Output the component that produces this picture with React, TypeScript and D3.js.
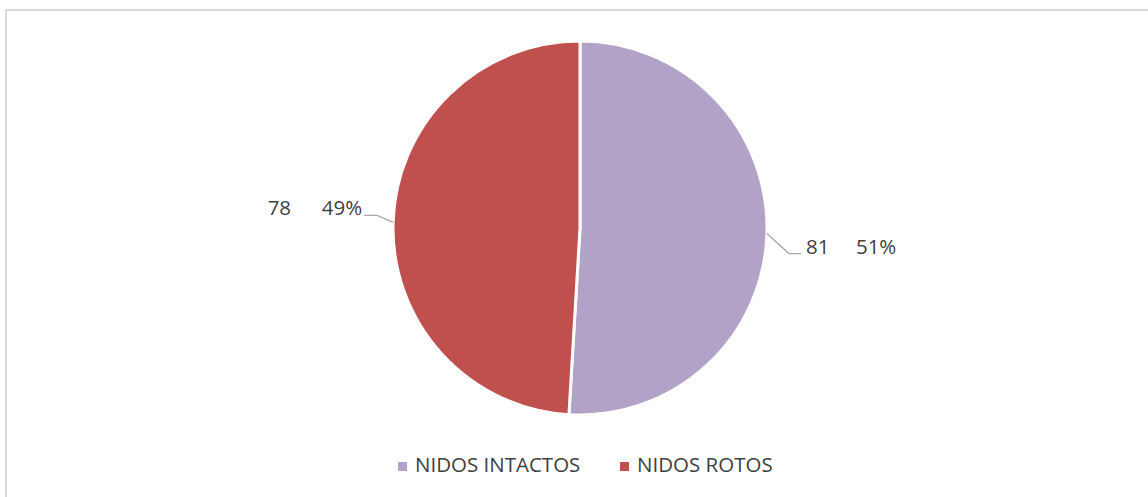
import React from 'react';
import * as d3 from 'd3';

const categories = ['NIDOS INTACTOS', 'NIDOS ROTOS'];
const values = [81, 78];
const colors = ['#B3A2C7', '#C0504D'];

const W = 1148;
const H = 497;
const cx = 580;
const cy = 228;
const R = 187;
const FONT = '"Open Sans", "Noto Sans", sans-serif';
const FS = 20.5;
const TEXT = '#404040';

export default function App() {
  const total = d3.sum(values);
  const pie = d3.pie<number>().sort(null).value(d => d)(values);
  const arc = d3.arc<d3.PieArcDatum<number>>().innerRadius(0).outerRadius(R);
  const pct = d3.format('.0%');

  return (
    <svg width={W} height={H} style={{ position: 'absolute', left: 0, top: 0 }}>
      <rect x={6} y={10} width={1150} height={500} fill="#fff" stroke="#d9d9d9" strokeWidth={2} />
      <g transform={`translate(${cx},${cy})`}>
        {pie.map((p, i) => (
          <path key={i} d={arc(p) || ''} fill={colors[i]} stroke="#fff" strokeWidth={3} strokeLinejoin="round" />
        ))}
      </g>
      {pie.map((p, i) => {
        const mid = (p.startAngle + p.endAngle) / 2;
        const ax = cx + R * Math.sin(mid);
        const ay = cy - R * Math.cos(mid);
        const right = Math.sin(mid) > 0;
        const share = pct(values[i] / total);
        if (right) {
          const ex = ax + 22, ey = ay + 20;
          return (
            <g key={i}>
              <polyline points={`${ax},${ay} ${ex},${ey} ${ex + 12},${ey}`} fill="none" stroke="#a6a6a6" strokeWidth={1.3} />
              <text x={ex + 17} y={ey - 5} fill={TEXT} fontFamily={FONT} fontSize={FS} dominantBaseline="middle">{values[i]}</text>
              <text x={ex + 67} y={ey - 5} fill={TEXT} fontFamily={FONT} fontSize={FS} dominantBaseline="middle">{share}</text>
            </g>
          );
        }
        const ex = ax - 16, ey = ay - 7;
        return (
          <g key={i}>
            <polyline points={`${ax},${ay} ${ex},${ey} ${ex - 13},${ey}`} fill="none" stroke="#a6a6a6" strokeWidth={1.3} />
            <text x={ex - 15} y={ey - 6} fill={TEXT} fontFamily={FONT} fontSize={FS} textAnchor="end" dominantBaseline="middle">{share}</text>
            <text x={ex - 86} y={ey - 6} fill={TEXT} fontFamily={FONT} fontSize={FS} textAnchor="end" dominantBaseline="middle">{values[i]}</text>
          </g>
        );
      })}
      <g>
        {categories.map((c, i) => {
          const lx = [398, 620][i];
          return (
            <g key={c}>
              <rect x={lx} y={462} width={9} height={9} fill={colors[i]} />
              <text x={lx + 17} y={467} fill={TEXT} fontFamily={FONT} fontSize={FS} dominantBaseline="middle">{c}</text>
            </g>
          );
        })}
      </g>
    </svg>
  );
}
